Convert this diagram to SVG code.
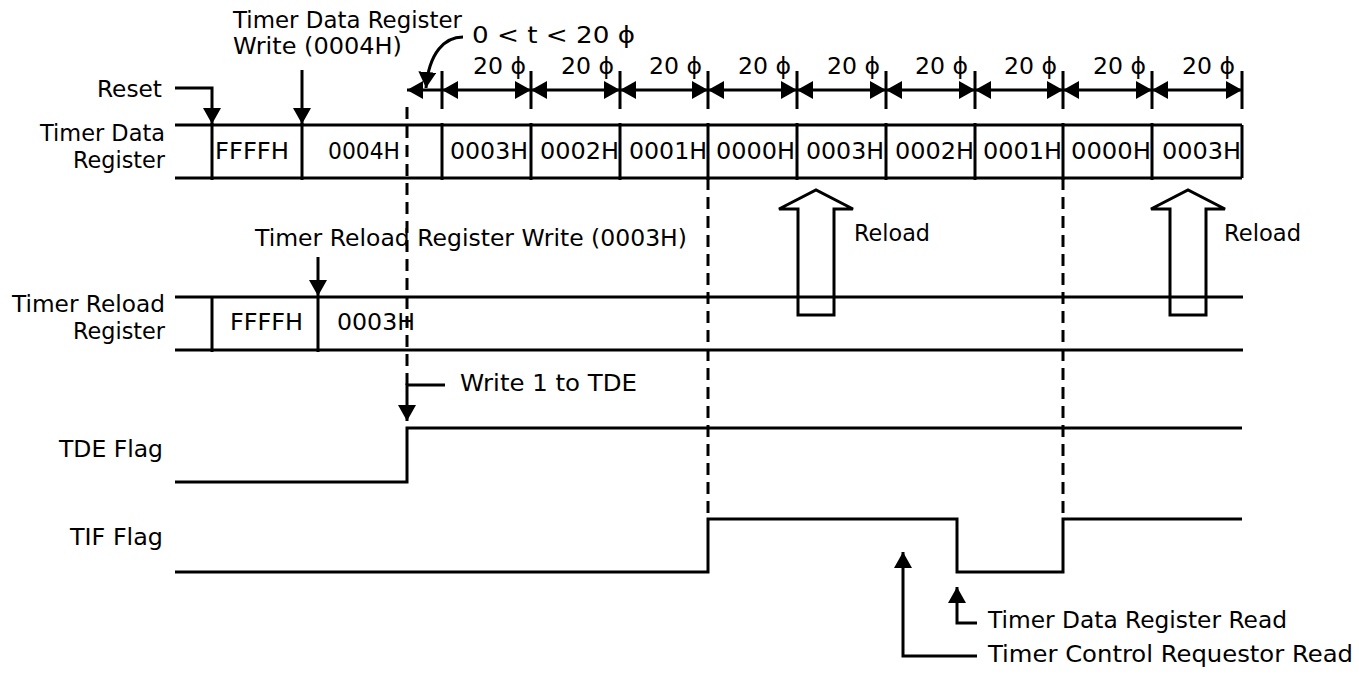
<svg xmlns="http://www.w3.org/2000/svg" width="1359" height="674" viewBox="0 0 1359 674">
<defs>
<marker id="ah" markerUnits="userSpaceOnUse" markerWidth="16" markerHeight="18" refX="16" refY="9" orient="auto-start-reverse" viewBox="0 0 16 18"><path d="M0,0 L16,9 L0,18 z" fill="#000"/></marker>
</defs>
<style>
.ln{stroke:#000;stroke-width:3;fill:none}
.ds{stroke:#000;stroke-width:3;fill:none;stroke-dasharray:12 7}
.ar{stroke:#000;stroke-width:3;fill:none;marker-end:url(#ah)}
.dim{stroke:#000;stroke-width:3;fill:none;marker-start:url(#ah);marker-end:url(#ah)}
text{font-family:"DejaVu Sans","Liberation Sans",sans-serif;font-size:22.5px;fill:#000}
.r{text-anchor:end}
</style>
<rect width="1359" height="674" fill="#fff"/>

<g id="row-labels">
<text x="162" y="97" class="r" textLength="65" lengthAdjust="spacingAndGlyphs">Reset</text>
<text x="165" y="141" class="r" textLength="125" lengthAdjust="spacingAndGlyphs">Timer Data</text>
<text x="165" y="168" class="r" textLength="92" lengthAdjust="spacingAndGlyphs">Register</text>
<text x="165" y="312" class="r" textLength="153" lengthAdjust="spacingAndGlyphs">Timer Reload</text>
<text x="165" y="339" class="r" textLength="92" lengthAdjust="spacingAndGlyphs">Register</text>
<text x="163" y="457" class="r" textLength="104" lengthAdjust="spacingAndGlyphs">TDE Flag</text>
<text x="163" y="545" class="r" textLength="93" lengthAdjust="spacingAndGlyphs">TIF Flag</text>
</g>

<g id="timer-data-register">
<path class="ln" d="M175,125 H1242 M175,178 H1242 M1242,125 V178"/>
<path class="ln" d="M212,123 V180 M302,123 V180 M442,123 V180 M531,123 V180 M620,123 V180 M708,123 V180 M797,123 V180 M886,123 V180 M975,123 V180 M1063,123 V180 M1152,123 V180"/>
<text x="215" y="159" textLength="74" lengthAdjust="spacingAndGlyphs">FFFFH</text>
<text x="328" y="159" textLength="72" lengthAdjust="spacingAndGlyphs">0004H</text>
<text x="450" y="159" textLength="78" lengthAdjust="spacingAndGlyphs">0003H</text>
<text x="540" y="159" textLength="79" lengthAdjust="spacingAndGlyphs">0002H</text>
<text x="629" y="159" textLength="78" lengthAdjust="spacingAndGlyphs">0001H</text>
<text x="716" y="159" textLength="79" lengthAdjust="spacingAndGlyphs">0000H</text>
<text x="806" y="159" textLength="78" lengthAdjust="spacingAndGlyphs">0003H</text>
<text x="895" y="159" textLength="79" lengthAdjust="spacingAndGlyphs">0002H</text>
<text x="983" y="159" textLength="79" lengthAdjust="spacingAndGlyphs">0001H</text>
<text x="1071" y="159" textLength="80" lengthAdjust="spacingAndGlyphs">0000H</text>
<text x="1162" y="159" textLength="79" lengthAdjust="spacingAndGlyphs">0003H</text>
</g>

<g id="timer-reload-register">
<path class="ln" d="M175,297 H1243 M175,350 H1243 M212,297 V352 M318,297 V352"/>
<text x="230" y="330" textLength="73" lengthAdjust="spacingAndGlyphs">FFFFH</text>
<text x="337" y="330" textLength="78" lengthAdjust="spacingAndGlyphs">0003H</text>
</g>

<g id="tde-flag">
<path class="ln" d="M175,482 H407 V428 H1242"/>
</g>

<g id="tif-flag">
<path class="ln" d="M175,572 H708 V519 H957 V572 H1063 V519 H1242"/>
</g>

<g id="timing-dimensions">
<path class="ln" d="M442,71 V109 M531,71 V109 M620,71 V109 M708,71 V109 M797,71 V109 M886,71 V109 M975,71 V109 M1063,71 V109 M1152,71 V109 M1242,71 V109"/>
<text x="473" y="74" textLength="53" lengthAdjust="spacingAndGlyphs">20 ϕ</text>
<text x="561" y="74" textLength="53" lengthAdjust="spacingAndGlyphs">20 ϕ</text>
<text x="649" y="74" textLength="53" lengthAdjust="spacingAndGlyphs">20 ϕ</text>
<text x="738" y="74" textLength="53" lengthAdjust="spacingAndGlyphs">20 ϕ</text>
<text x="827" y="74" textLength="53" lengthAdjust="spacingAndGlyphs">20 ϕ</text>
<text x="915" y="74" textLength="53" lengthAdjust="spacingAndGlyphs">20 ϕ</text>
<text x="1004" y="74" textLength="53" lengthAdjust="spacingAndGlyphs">20 ϕ</text>
<text x="1093" y="74" textLength="53" lengthAdjust="spacingAndGlyphs">20 ϕ</text>
<text x="1182" y="74" textLength="53" lengthAdjust="spacingAndGlyphs">20 ϕ</text>
<text x="472" y="43" textLength="163" lengthAdjust="spacingAndGlyphs">0 &lt; t &lt; 20 ϕ</text>
</g>

<g id="reload-arrows">
<polygon class="ln" points="798,315 798,209 779,209 816,190 853,209 834,209 834,315"/>
<polygon class="ln" points="1170,315 1170,209 1151,209 1188,190 1225,209 1206,209 1206,315"/>
<text x="854" y="241" textLength="76" lengthAdjust="spacingAndGlyphs">Reload</text>
<text x="1224" y="241" textLength="77" lengthAdjust="spacingAndGlyphs">Reload</text>
</g>

<g id="event-labels">
<text x="233" y="28" textLength="229" lengthAdjust="spacingAndGlyphs">Timer Data Register</text>
<text x="233" y="54" textLength="169" lengthAdjust="spacingAndGlyphs">Write (0004H)</text>
<text x="255" y="246" textLength="432" lengthAdjust="spacingAndGlyphs">Timer Reload Register Write (0003H)</text>
<text x="460" y="391" textLength="177" lengthAdjust="spacingAndGlyphs">Write 1 to TDE</text>
<text x="988" y="628" textLength="299" lengthAdjust="spacingAndGlyphs">Timer Data Register Read</text>
<text x="988" y="662" textLength="365" lengthAdjust="spacingAndGlyphs">Timer Control Requestor Read</text>
</g>

<g id="connectors">
<path class="ds" d="M407,107 V385 M708,178 V519 M1063,178 V519"/>
<path class="dim" d="M442,90 H531"/>
<path class="dim" d="M531,90 H620"/>
<path class="dim" d="M620,90 H708"/>
<path class="dim" d="M708,90 H797"/>
<path class="dim" d="M797,90 H886"/>
<path class="dim" d="M886,90 H975"/>
<path class="dim" d="M975,90 H1063"/>
<path class="dim" d="M1063,90 H1152"/>
<path class="dim" d="M1152,90 H1242"/>
<path class="ar" d="M442,90 H407"/>
<path class="ar" d="M463,37 C445,37 429,52 426,88"/>
<path class="ar" d="M175,88 H212 V124"/>
<path class="ar" d="M302,70 V124"/>
<path class="ar" d="M318,257 V296"/>
<path class="ar" d="M445,385 H407 V421"/>
<path class="ar" d="M977,656 H903 V552"/>
<path class="ar" d="M977,623 H957 V587"/>
</g>
</svg>
